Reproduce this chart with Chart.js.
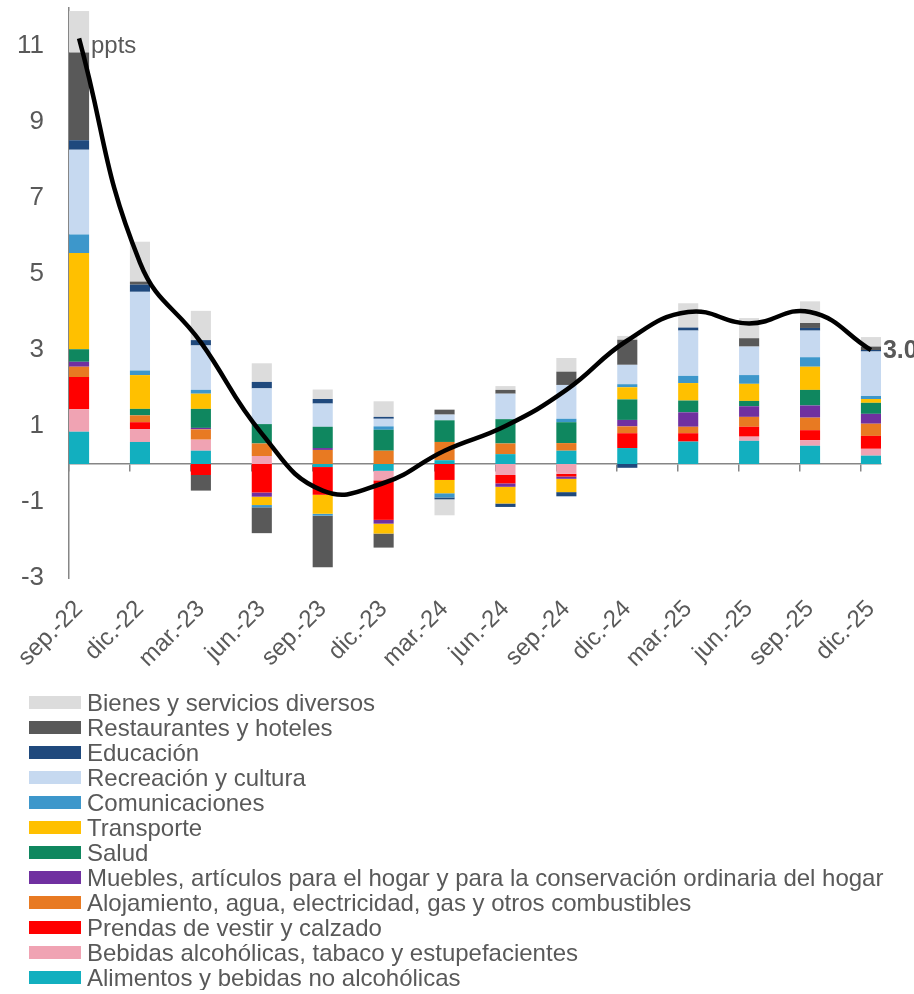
<!DOCTYPE html>
<html lang="es">
<head>
<meta charset="utf-8">
<script src="https://cdn.jsdelivr.net/npm/chart.js@4.4.1/dist/chart.umd.min.js"></script>
<style>
    html, body { margin: 0; padding: 0; background: #fff; overflow: hidden; }
    #inflChart { display: block; }
    #legend {
        margin: 0;
        padding: 0 0 0 29px;
        list-style: none;
        font: 24px "Liberation Sans", Arial, sans-serif;
        color: #595959;
    }
    #legend li { height: 25px; line-height: 25px; display: flex; align-items: center; white-space: nowrap; }
    #legend .box { width: 52px; height: 13px; margin-right: 6px; flex: none; }
</style>
</head>
<body>
<canvas id="inflChart" width="914" height="690"></canvas>
<ul id="legend"></ul>

<script>
const categories = ['sep.-22', 'dic.-22', 'mar.-23', 'jun.-23', 'sep.-23', 'dic.-23', 'mar.-24',
    'jun.-24', 'sep.-24', 'dic.-24', 'mar.-25', 'jun.-25', 'sep.-25', 'dic.-25'];

// contribuciones por división (ppts)
const alimentos      = [0.85, 0.58, 0.35, 0.00, -0.08, -0.18, 0.10, 0.26, 0.35, 0.42, 0.59, 0.61, 0.48, 0.22];
const bebidas        = [0.59, 0.34, 0.29, 0.21, 0.00, -0.25, 0.00, -0.29, -0.26, 0.00, 0.00, 0.11, 0.15, 0.18];
const prendas        = [0.85, 0.18, -0.29, -0.75, -0.73, -1.04, -0.42, -0.22, -0.07, 0.39, 0.22, 0.26, 0.26, 0.34];
const alojamiento    = [0.27, 0.18, 0.27, 0.33, 0.37, 0.35, 0.48, 0.28, 0.20, 0.18, 0.17, 0.26, 0.33, 0.32];
const muebles        = [0.13, 0.00, 0.04, -0.11, 0.05, -0.10, 0.00, -0.09, -0.06, 0.17, 0.38, 0.28, 0.32, 0.26];
const salud          = [0.33, 0.17, 0.50, 0.51, 0.56, 0.55, 0.57, 0.64, 0.55, 0.54, 0.31, 0.14, 0.41, 0.29];
const transporte     = [2.53, 0.89, 0.40, -0.22, -0.50, -0.26, -0.35, -0.44, -0.35, 0.32, 0.46, 0.45, 0.61, 0.10];
const comunicaciones = [0.49, 0.12, 0.10, -0.06, -0.05, 0.09, -0.11, 0.00, 0.09, 0.08, 0.19, 0.23, 0.25, 0.08];
const recreacion     = [2.23, 2.07, 1.17, 0.94, 0.61, 0.20, 0.15, 0.67, 0.89, 0.51, 1.19, 0.75, 0.70, 1.17];
const educacion      = [0.25, 0.19, 0.14, 0.17, 0.12, 0.05, -0.05, -0.09, -0.11, -0.10, 0.08, 0.00, 0.07, 0.04];
const restaurantes   = [2.31, 0.08, -0.41, -0.68, -1.36, -0.37, 0.13, 0.10, 0.35, 0.66, 0.00, 0.22, 0.13, 0.09];
const diversos       = [1.09, 1.05, 0.77, 0.49, 0.25, 0.41, -0.42, 0.10, 0.36, 0.10, 0.64, 0.53, 0.57, 0.25];

// inflación total
const inflacion = [11.2, 5.3, 3.2, 0.8, -0.7, -0.5, 0.35, 1.0, 1.95, 3.25, 4.0, 3.7, 4.0, 3.0];

const yTicks = [-3, -1, 1, 3, 5, 7, 9, 11];
const unitLabel = 'ppts';

const series = [
    { label: 'Alimentos y bebidas no alcohólicas', values: alimentos, color: '#12AFBF' },
    { label: 'Bebidas alcohólicas, tabaco y estupefacientes', values: bebidas, color: '#F0A3B3' },
    { label: 'Prendas de vestir y calzado', values: prendas, color: '#FF0000' },
    { label: 'Alojamiento, agua, electricidad, gas y otros combustibles', values: alojamiento, color: '#E87A22' },
    { label: 'Muebles, artículos para el hogar y para la conservación ordinaria del hogar', values: muebles, color: '#7030A0' },
    { label: 'Salud', values: salud, color: '#0F875F' },
    { label: 'Transporte', values: transporte, color: '#FFC000' },
    { label: 'Comunicaciones', values: comunicaciones, color: '#3D97CB' },
    { label: 'Recreación y cultura', values: recreacion, color: '#C6D9F0' },
    { label: 'Educación', values: educacion, color: '#1F497D' },
    { label: 'Restaurantes y hoteles', values: restaurantes, color: '#595959' },
    { label: 'Bienes y servicios diversos', values: diversos, color: '#DCDCDC' },
];

const textGray = '#595959';
const axisGray = '#868686';
const fontFamily = '"Liberation Sans", Arial, sans-serif';

const BAR_WIDTH = 0.33;           // ancho de barra, en pasos de categoria
const half = BAR_WIDTH / 2;
const xMin = -half;
const xMax = categories.length - 1 + half;

const toPoints = vals => vals.map((v, i) => ({ x: i, y: v }));

Chart.defaults.font.family = fontFamily;

const datasets = series.map(s => ({
    type: 'bar',
    label: s.label,
    data: toPoints(s.values),
    backgroundColor: s.color,
    borderWidth: 0,
    barPercentage: BAR_WIDTH,
    categoryPercentage: 1,
    stack: 'div',
    order: 1,
}));

datasets.push({
    type: 'line',
    label: 'Inflación',
    data: toPoints(inflacion),
    borderColor: '#000000',
    borderWidth: 4.5,
    pointRadius: 0,
    tension: 0.45,
    fill: false,
    stack: 'total',
    order: 0,
});

const extraLabels = {
    id: 'extraLabels',
    afterDraw(chart) {
        const { ctx, chartArea, scales } = chart;
        ctx.save();
        ctx.fillStyle = textGray;
        ctx.textAlign = 'left';
        ctx.textBaseline = 'middle';
        ctx.font = '24px ' + fontFamily;
        ctx.fillText(unitLabel, chartArea.left + 22, scales.y.getPixelForValue(yTicks[yTicks.length - 1]));

        const meta = chart.getDatasetMeta(chart.data.datasets.length - 1);
        const last = meta.data[meta.data.length - 1];
        ctx.font = 'bold 25px ' + fontFamily;
        ctx.fillText(inflacion[inflacion.length - 1].toFixed(1), last.x + 12, last.y + 1);
        ctx.restore();
    },
};

const chart = new Chart(document.getElementById('inflChart'), {
    type: 'bar',
    data: { datasets: datasets },
    plugins: [extraLabels],
    options: {
        responsive: false,
        animation: false,
        layout: { padding: { top: 8, right: 33, left: 0, bottom: 0 } },
        plugins: {
            legend: { display: false },
            tooltip: { enabled: false },
        },
        scales: {
            x: {
                type: 'linear',
                position: { y: 0 },
                min: xMin,
                max: xMax,
                offset: false,
                stacked: true,
                z: 1,
                afterBuildTicks: s => { s.ticks = categories.map((_, i) => ({ value: i - half })); },
                ticks: { display: false },
                grid: { display: true, offset: false, drawOnChartArea: false, drawTicks: true, tickLength: 7, color: axisGray, lineWidth: 1.5 },
                border: { display: true, color: axisGray, width: 1.5 },
            },
            xl: {
                type: 'linear',
                position: 'bottom',
                min: xMin,
                max: xMax,
                offset: false,
                afterBuildTicks: s => { s.ticks = categories.map((_, i) => ({ value: i })); },
                afterFit: s => { s.height = 112; s.paddingLeft = 0; s.paddingRight = 0; },
                ticks: {
                    autoSkip: false,
                    minRotation: 45,
                    maxRotation: 45,
                    padding: 17,
                    color: textGray,
                    font: { size: 24 },
                    callback: v => categories[v],
                },
                grid: { display: false, offset: false, drawTicks: false },
                border: { display: false },
            },
            y: {
                min: -3,
                max: 12,
                stacked: true,
                afterBuildTicks: s => { s.ticks = yTicks.map(v => ({ value: v })); },
                afterFit: s => { s.width = 69; s.paddingTop = 0; s.paddingBottom = 0; },
                ticks: { color: textGray, font: { size: 26 }, padding: 25, callback: v => String(v) },
                grid: { display: false, drawTicks: false },
                border: { display: true, color: axisGray, width: 1.5 },
            },
        },
    },
});

// leyenda en columna, en el orden inverso de apilado
const legendEl = document.getElementById('legend');
series.slice().reverse().forEach(s => {
    const li = document.createElement('li');
    const box = document.createElement('span');
    box.className = 'box';
    box.style.background = s.color;
    li.appendChild(box);
    li.appendChild(document.createTextNode(s.label));
    legendEl.appendChild(li);
});
</script>
</body>
</html>
